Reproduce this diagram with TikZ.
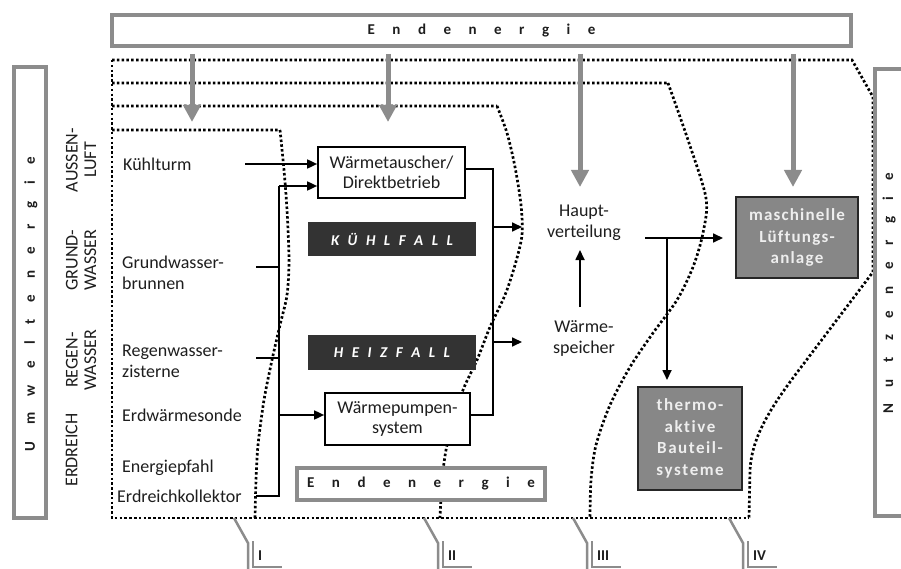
\documentclass[tikz,border=0pt]{standalone}
\usepackage{fontspec}
\setmainfont{Carlito}
\usetikzlibrary{arrows.meta}
\makeatletter
\newcommand\spc[2]{\def\lsgap{#1}\@tfor\lsch:=#2\do{\lsch\hspace{\lsgap}}\unskip}
\makeatother
\definecolor{bordergray}{HTML}{8C8C8C}
\definecolor{darkbox}{HTML}{333333}
\definecolor{fillgray}{HTML}{878787}
\definecolor{lighttext}{HTML}{EEEEEE}
\definecolor{textdark}{HTML}{1E1E1E}
\tikzset{
 conn/.style={line width=1.7pt, draw=black},
 arr/.style={conn, -{Triangle[length=10pt,width=9pt]}},
 garr/.style={line width=5pt, draw=bordergray, -{Triangle[length=17pt,width=17pt]}},
 reg/.style={line width=2.7pt, dash pattern=on 2.5pt off 2.3pt},
 ebox/.style={draw=bordergray, line width=4pt, fill=white, inner sep=0pt, text=textdark, font=\fontsize{15}{18}\selectfont\bfseries},
 wbox/.style={draw=black, line width=1.7pt, fill=white, inner sep=0pt, align=center, text=textdark, font=\fontsize{18}{20.5}\selectfont},
 fallbox/.style={fill=darkbox, inner sep=0pt, text=white, font=\fontsize{15}{18}\selectfont\bfseries\itshape},
 nbox/.style={draw=black!85, line width=1.8pt, fill=fillgray, inner sep=0pt, align=center, text=lighttext, font=\fontsize{17}{21.7}\selectfont\bfseries},
 lbl/.style={font=\fontsize{18}{21}\selectfont, inner sep=0pt, align=left, text=textdark},
 side/.style={font=\fontsize{18}{18.5}\selectfont, rotate=90, align=center, inner sep=0pt, text=textdark},
 sidebold/.style={font=\fontsize{15}{18}\selectfont\bfseries, rotate=90, inner sep=0pt, text=textdark},
 regmark/.style={line width=2.5pt, draw=bordergray},
 numlbl/.style={font=\fontsize{15}{18}\selectfont\bfseries, inner sep=0pt, anchor=west, text=textdark}
}
\begin{document}
\begin{tikzpicture}[x=1pt,y=-1pt]
\useasboundingbox (0,0) rectangle (901,569);
\clip (0,0) rectangle (901,569);
\fill[white] (0,0) rectangle (901,569);

% region boundaries
\draw[reg] (112,60) -- (112,518) -- (749,518);
\draw[reg] (112,60) -- (852,60) -- (873,97) -- (873,272) -- (805,362) .. controls (772,405) and (752,435) .. (750,470) -- (749,518);
\draw[reg] (112,83) -- (668,83) plot[smooth] coordinates {(668,83) (688,140) (706,198) (703,233) (693,267) (677,300) (653,333) (630,367) (610,405) (596,445) (591,480) (590,518)};
\draw[reg] (112,106) -- (497,106) plot[smooth] coordinates {(497,106) (507,133) (515,167) (521,205) (522,235) (515,265) (505,295) (490,327) (477,360) (463,390) (452,425) (446,450) (442,480) (440,518)};
\draw[reg] (112,130) -- (280,130) plot[smooth] coordinates {(280,130) (284,170) (287,210) (289,260) (287,295) (280,325) (272,360) (264,400) (258,445) (256,480) (255,518)};

% frames
\node[ebox, minimum width=739, minimum height=31] (topE) at (481.5,30.5) {\spc{17.5pt}{Endenergie}};
\node[draw=bordergray, line width=4pt, fill=white, minimum width=32, minimum height=451, inner sep=0pt] (umw) at (30,292.5) {};
\node[sidebold] (umwt) at (31,304) {\spc{16.5pt}{Umweltenergie}};
\node[draw=bordergray, line width=4pt, fill=white, minimum width=37, minimum height=447, inner sep=0pt] (nutz) at (893.5,292.5) {};
\node[sidebold] (nutzt) at (889,293) {\spc{16.5pt}{Nutzenergie}};

% gray arrows
\coordinate (g1) at (192,122);
\coordinate (g2) at (388,122);
\coordinate (g3) at (580,187);
\coordinate (g4) at (793,187);
\foreach \g in {g1,g2,g3,g4} \draw[garr, shorten <=6pt] (\g |- topE.south) -- (\g);

% side labels
\node[side] (aussen) at (81,160) {AUSSEN-\\LUFT};
\node[side] (grund) at (81,260) {GRUND-\\WASSER};
\node[side] (regen) at (81,360) {REGEN-\\WASSER};
\node[side] (erd) at (71.5,450) {ERDREICH};

% sources
\node[lbl, anchor=west] (kuehl) at (123,164) {Kühlturm};
\node[lbl, anchor=west] (gwb) at (122,273) {Grundwasser-\\brunnen};
\node[lbl, anchor=west] (rwz) at (122,361) {Regenwasser-\\zisterne};
\node[lbl, anchor=west] (ews) at (122,415) {Erdwärmesonde};
\node[lbl, anchor=west] (epf) at (122,468) {Energiepfahl};
\node[lbl, anchor=west] (ekol) at (117,496) {Erdreichkollektor};

% central boxes
\node[wbox, minimum width=147, minimum height=51] (wt) at (391.5,172.5) {Wärmetauscher/\\Direktbetrieb};
\node[wbox, minimum width=145, minimum height=52] (wp) at (397.5,419) {Wärmepumpen-\\system};
\node[fallbox, minimum width=168, minimum height=34] (kf) at (392,239) {\spc{8.5pt}{KÜHLFALL}};
\node[fallbox, minimum width=168, minimum height=35] (hf) at (392,352.5) {\spc{8.5pt}{HEIZFALL}};
\node[ebox, minimum width=248, minimum height=32] (botE) at (421,484) {\spc{17.5pt}{Endenergie}};

\node[lbl, align=center] (hv) at (584,223) {Haupt-\\verteilung};
\node[lbl, align=center] (ws) at (584,338) {Wärme-\\speicher};

\node[nbox, minimum width=122, minimum height=81] (ml) at (797,237.5) {\spc{1.2pt}{maschinelle}\\\spc{1.2pt}{Lüftungs-}\\\spc{1.2pt}{anlage}};
\node[nbox, minimum width=104, minimum height=103] (tb) at (690,438.5) {\spc{1.5pt}{thermo-}\\\spc{1.5pt}{aktive}\\\spc{1.5pt}{Bauteil-}\\\spc{1.5pt}{systeme}};

% connectors left
\coordinate (k1) at (245,164);
\draw[arr] (k1) -- (k1 -| wt.west);
\coordinate (bt) at (279,186);
\coordinate (bb) at (279,496);
\coordinate (bw) at (279,415);
\coordinate (gwe) at (256,267);
\coordinate (rwe) at (256,358);
\coordinate (eke) at (256,496);
\draw[conn] (eke) -- (bb) -- (bt);
\draw[arr] (bt) -- (bt -| wt.west);
\draw[conn] (gwe) -- (gwe -| bt);
\draw[conn] (rwe) -- (rwe -| bt);
\draw[arr] (bw) -- (bw -| wp.west);

% connectors right
\coordinate (c1) at (493,169);
\coordinate (c2) at (493,415);
\coordinate (t1) at (522,227);
\coordinate (t2) at (522,342);
\draw[conn] (c1 -| wt.east) -- (c1) -- (c2) -- (c2 -| wp.east);
\draw[arr] (t1 -| c1) -- (t1);
\draw[arr] (t2 -| c1) -- (t2);

% distribution
\coordinate (u1) at (580,307);
\coordinate (u2) at (580,250);
\draw[arr] (u1) -- (u2);
\coordinate (h1) at (645,238);
\coordinate (h2) at (723,238);
\coordinate (d1) at (667,238);
\coordinate (d2) at (667,380);
\draw[arr] (h1) -- (h2);
\draw[arr] (d1) -- (d2);

% region markers
\foreach \xv/\t/\nm in {248/I/m1, 438/II/m2, 587/III/m3, 743/IV/m4} {
  \draw[regmark] (\xv-14,518) -- (\xv,543) -- (\xv,575);
  \draw[regmark] (\xv+5,541) -- (\xv+5,567) -- (\xv+34,567);
  \node[numlbl] (\nm) at (\xv+10,556) {\t};
}
\end{tikzpicture}
\end{document}
